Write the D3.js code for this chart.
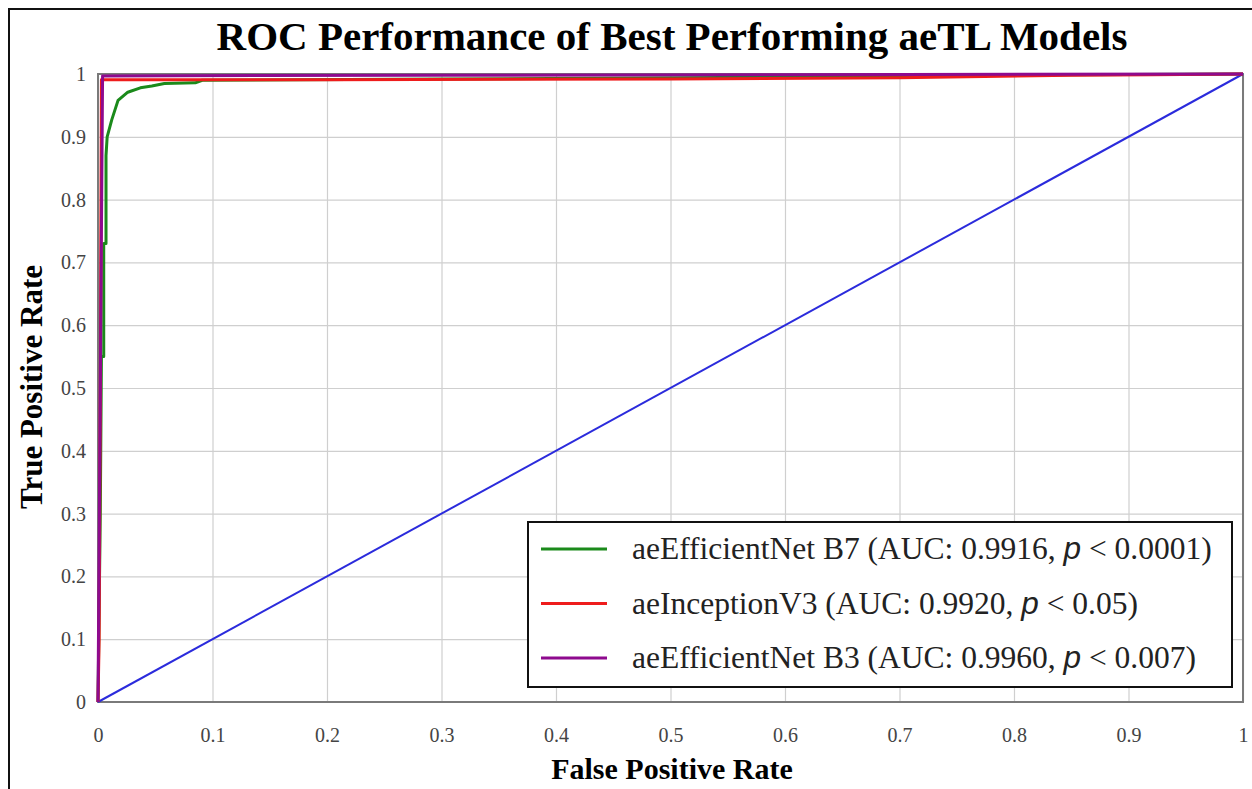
<!DOCTYPE html>
<html>
<head>
<meta charset="utf-8">
<script src="https://cdn.jsdelivr.net/npm/d3@7"></script>
<style>
  html, body { margin: 0; padding: 0; background: #fff; }
  svg { display: block; }
  .tick text { font-family: "Liberation Serif", serif; font-size: 20px; fill: #444; }
</style>
</head>
<body>
<svg id="chart" width="1252" height="789"></svg>
<script>
// ROC curves, points as [fpr, tpr]
var effB7 = [[0, 0], [0.002, 0.3], [0.003, 0.55], [0.005, 0.55], [0.005, 0.73], [0.007, 0.73],
  [0.007, 0.87], [0.008, 0.9], [0.012, 0.927], [0.0175, 0.958], [0.026, 0.971], [0.037, 0.978],
  [0.047, 0.981], [0.058, 0.985], [0.085, 0.986], [0.091, 0.99], [0.3, 0.992], [0.6, 0.995],
  [0.85, 0.999], [1, 1]];
var inceptionV3 = [[0, 0], [0.001, 0.1], [0.002, 0.5], [0.003, 0.991], [0.2, 0.991], [0.5, 0.992],
  [0.7, 0.994], [0.85, 0.998], [0.92, 0.999], [1, 1]];
var effB3 = [[0, 0], [0.002, 0.5], [0.004, 0.997], [0.3, 0.998], [0.6, 0.999], [1, 1]];
var chance = [[0, 0], [1, 1]];

var seriesNames = ['aeEfficientNet B7', 'aeInceptionV3', 'aeEfficientNet B3'];
var seriesAuc = ['0.9916', '0.9920', '0.9960'];
var seriesP = ['0.0001', '0.05', '0.007'];
var seriesColors = ['#1b8a1b', '#ee1c1c', '#8e0a8e'];
var seriesData = [effB7, inceptionV3, effB3];

var ticks = [0, 0.1, 0.2, 0.3, 0.4, 0.5, 0.6, 0.7, 0.8, 0.9, 1];

var svg = d3.select('#chart');
var plotL = 98, plotR = 1243, plotT = 74, plotB = 702;

var x = d3.scaleLinear().domain([0, 1]).range([plotL, plotR]);
var y = d3.scaleLinear().domain([0, 1]).range([plotB, plotT]);

// outer frame
svg.append('rect')
  .attr('x', 9).attr('y', 9).attr('width', 1260).attr('height', 800)
  .attr('fill', 'none').attr('stroke', '#111').attr('stroke-width', 2);

// grid
svg.append('g')
  .attr('transform', 'translate(0,' + plotB + ')')
  .call(d3.axisBottom(x).tickValues(ticks).tickSize(-(plotB - plotT)).tickFormat(''))
  .call(function (g) {
    g.select('.domain').remove();
    g.selectAll('line').attr('stroke', '#cfcfcf').attr('stroke-width', 1.2);
  });
svg.append('g')
  .attr('transform', 'translate(' + plotL + ',0)')
  .call(d3.axisLeft(y).tickValues(ticks).tickSize(-(plotR - plotL)).tickFormat(''))
  .call(function (g) {
    g.select('.domain').remove();
    g.selectAll('line').attr('stroke', '#cfcfcf').attr('stroke-width', 1.2);
  });

// tick labels
var fmt = d3.format('~g');
svg.append('g')
  .attr('transform', 'translate(0,' + plotB + ')')
  .call(d3.axisBottom(x).tickValues(ticks).tickSize(0).tickPadding(26).tickFormat(fmt))
  .call(function (g) { g.select('.domain').remove(); });
svg.append('g')
  .attr('transform', 'translate(' + plotL + ',0)')
  .call(d3.axisLeft(y).tickValues(ticks).tickSize(0).tickPadding(12).tickFormat(fmt))
  .call(function (g) { g.select('.domain').remove(); });

// plot frame
svg.append('rect')
  .attr('x', plotL).attr('y', plotT).attr('width', plotR - plotL).attr('height', plotB - plotT)
  .attr('fill', 'none').attr('stroke', '#7a7a7a').attr('stroke-width', 2);

var line = d3.line().x(function (d) { return x(d[0]); }).y(function (d) { return y(d[1]); });

svg.append('path').datum(chance)
  .attr('d', line).attr('fill', 'none').attr('stroke', '#2b2bdc').attr('stroke-width', 2);

seriesData.forEach(function (d, i) {
  svg.append('path').datum(d)
    .attr('d', line).attr('fill', 'none')
    .attr('stroke', seriesColors[i]).attr('stroke-width', 3)
    .attr('stroke-linejoin', 'round');
});

// title and axis labels
svg.append('text')
  .attr('x', 672).attr('y', 50).attr('text-anchor', 'middle')
  .style('font-family', '"Liberation Serif", serif').style('font-weight', 'bold').style('font-size', '41px')
  .text('ROC Performance of Best Performing aeTL Models');

svg.append('text')
  .attr('x', 672).attr('y', 779).attr('text-anchor', 'middle')
  .style('font-family', '"Liberation Serif", serif').style('font-weight', 'bold').style('font-size', '30px')
  .text('False Positive Rate');

svg.append('text')
  .attr('transform', 'translate(42,387) rotate(-90)').attr('text-anchor', 'middle')
  .style('font-family', '"Liberation Serif", serif').style('font-weight', 'bold').style('font-size', '31px')
  .text('True Positive Rate');

// legend
var legend = svg.append('g');
legend.append('rect')
  .attr('x', 528).attr('y', 522).attr('width', 704).attr('height', 165)
  .attr('fill', '#fff').attr('stroke', '#111').attr('stroke-width', 2);

seriesNames.forEach(function (name, i) {
  var ly = 549 + i * 54.5;
  legend.append('line')
    .attr('x1', 541).attr('x2', 607).attr('y1', ly).attr('y2', ly)
    .attr('stroke', seriesColors[i]).attr('stroke-width', 3);
  var t = legend.append('text')
    .attr('x', 632).attr('y', ly + 10)
    .style('font-family', '"Liberation Serif", serif').style('font-size', '31.5px').style('fill', '#222');
  t.append('tspan').text(name + ' (AUC: ' + seriesAuc[i] + ', ');
  t.append('tspan').style('font-family', '"Liberation Sans", sans-serif').style('font-style', 'italic').text('p');
  t.append('tspan').text(' < ' + seriesP[i] + ')');
});
</script>
</body>
</html>
